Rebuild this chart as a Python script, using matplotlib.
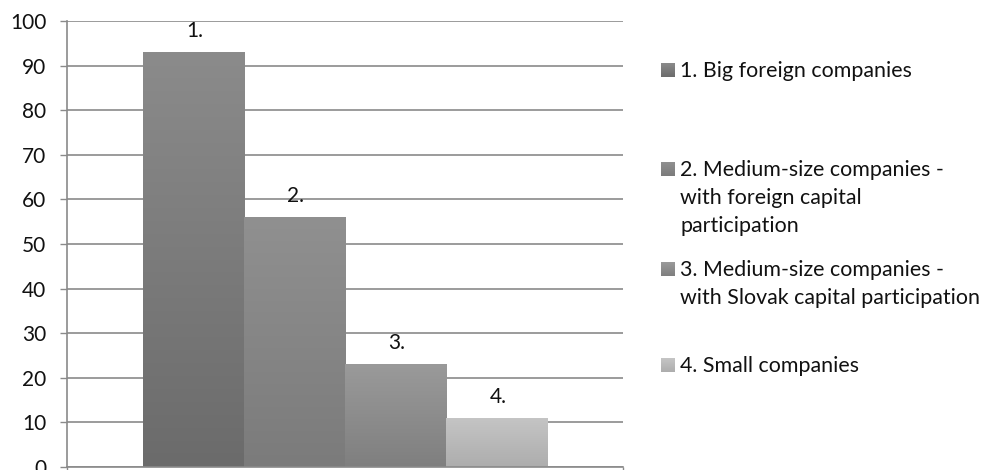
import numpy as np
import matplotlib.pyplot as plt
from matplotlib.colors import LinearSegmentedColormap

plt.rcParams['font.family'] = ['Lato', 'DejaVu Sans']

# ------------------------------
# Datos
# ------------------------------
series = ["1. Big foreign companies",
          "2. Medium-size companies -\nwith foreign capital\nparticipation",
          "3. Medium-size companies -\nwith Slovak capital participation",
          "4. Small companies"]
bar_tags = ["1.", "2.", "3.", "4."]
values = [93, 56, 23, 11]
y_ticks = np.arange(0, 101, 10)

# degradado de cada serie (arriba -> abajo)
top_cols = ["#8b8b8b", "#909090", "#9a9a9a", "#c5c5c5"]
bot_cols = ["#6b6b6b", "#7b7b7b", "#7f7f7f", "#adadad"]

W, H = 984, 470
fig = plt.figure(figsize=(W/100, H/100), dpi=100)
ax = fig.add_axes([67/W, 3/H, (623-67)/W, 446/H])

grid_col = "#8a8a8a"
txt_col = "#111111"
x = np.arange(len(values))
bars = ax.bar(x, values, width=1.0, color="none", zorder=2)

grad = np.linspace(0, 1, 256).reshape(-1, 1)
for b, v, ct, cb, tag in zip(bars, values, top_cols, bot_cols, bar_tags):
    cmap = LinearSegmentedColormap.from_list("g", [cb, ct])
    x0 = b.get_x()
    im = ax.imshow(grad, extent=[x0, x0 + b.get_width(), 0, v], origin="lower",
                   aspect="auto", cmap=cmap, zorder=2)
    im.set_clip_path(b)
    ax.annotate(tag, (b.get_x() + b.get_width()/2, v), xytext=(1, 11),
                textcoords="offset points", ha="center", va="baseline",
                fontsize=15, color=txt_col)

ax.set_xlim(-1.25, len(values) - 1 + 1.25)
ax.set_ylim(0, 100)
ax.set_yticks(y_ticks)
ax.yaxis.grid(True, color=grid_col, lw=1.2, zorder=0)
ax.set_axisbelow(True)
ax.set_xticks([-1.25, len(values) - 1 + 1.25])
ax.set_xticklabels([])
ax.tick_params(axis="y", length=5, width=1, color=grid_col, labelsize=15,
               labelcolor=txt_col, pad=10)
ax.tick_params(axis="x", length=5, width=1, color=grid_col)
for s in ["top", "right"]:
    ax.spines[s].set_visible(False)
for s in ["left", "bottom"]:
    ax.spines[s].set_color(grid_col)
    ax.spines[s].set_linewidth(1.2)

# ------------------------------
# Leyenda (coordenadas en pixeles)
# ------------------------------
lax = fig.add_axes([0, 0, 1, 1], facecolor="none")
lax.axis("off")
leg_y = [70, 169, 269, 365]
line_h = 28
for lab, yc, ct, cb in zip(series, leg_y, top_cols, bot_cols):
    cmap = LinearSegmentedColormap.from_list("g", [cb, ct])
    lax.imshow(grad, extent=[661, 675, yc + 7, yc - 7], origin="lower",
               aspect="auto", cmap=cmap)
    for i, line in enumerate(lab.split("\n")):
        lax.text(680, yc + 7 + i*line_h, line, ha="left", va="baseline",
                 fontsize=15.4, color=txt_col)
lax.set_xlim(0, W)
lax.set_ylim(H, 0)

fig.savefig("out.png", dpi=100)
